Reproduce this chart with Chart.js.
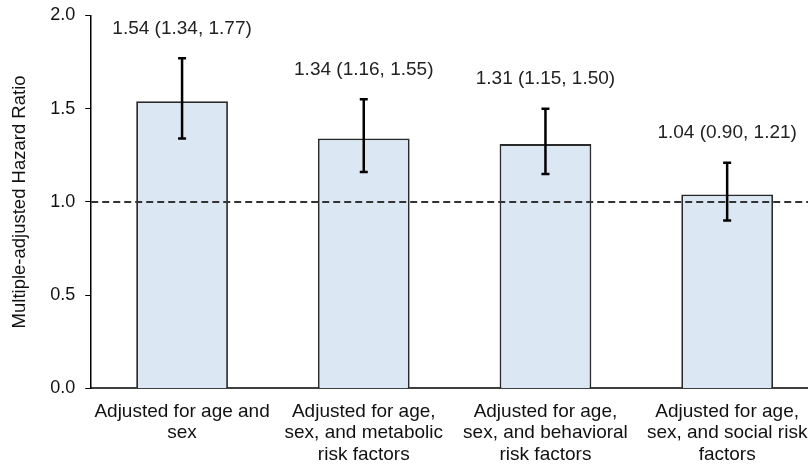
<!DOCTYPE html>
<html>
<head>
<meta charset="utf-8">
<script src="https://cdn.jsdelivr.net/npm/chart.js@4/dist/chart.umd.min.js"></script>
<style>
  html, body { margin: 0; padding: 0; background: #fff; overflow: hidden; }
  #wrap { width: 830px; height: 470px; }
</style>
</head>
<body>
<div id="wrap"><canvas id="hrChart" width="830" height="470"></canvas></div>
<script>
// categories (multi-line tick labels) and hazard ratios with 95% CI
const categories = [
    ['Adjusted for age and', 'sex'],
    ['Adjusted for age,', 'sex, and metabolic', 'risk factors'],
    ['Adjusted for age,', 'sex, and behavioral', 'risk factors'],
    ['Adjusted for age,', 'sex, and social risk', 'factors']
];
const hazardRatio = [1.54, 1.34, 1.31, 1.04];
const ciLower = [1.34, 1.16, 1.15, 0.90];
const ciUpper = [1.77, 1.55, 1.50, 1.21];
const yTicks = [0, 0.5, 1.0, 1.5, 2.0];
const referenceLine = 1.0;

const fontFamily = '"Liberation Sans", Arial, sans-serif';

// error bars, value labels and the dashed reference line
const errorBarPlugin = {
    id: 'errorBars',
    afterDatasetsDraw(chart) {
        const ctx = chart.ctx;
        const x = chart.scales.x;
        const y = chart.scales.y;
        const area = chart.chartArea;

        // dashed line at HR = 1
        const yRef = y.getPixelForValue(referenceLine);
        ctx.save();
        ctx.strokeStyle = '#333';
        ctx.lineWidth = 2;
        ctx.setLineDash([7, 4]);
        ctx.beginPath();
        ctx.moveTo(area.left, yRef);
        ctx.lineTo(area.right, yRef);
        ctx.stroke();
        ctx.restore();

        hazardRatio.forEach((v, i) => {
            const cx = x.getPixelForValue(i);
            const yLo = y.getPixelForValue(ciLower[i]);
            const yHi = y.getPixelForValue(ciUpper[i]);
            ctx.save();
            ctx.strokeStyle = '#000';
            ctx.lineWidth = 2.5;
            ctx.beginPath();
            ctx.moveTo(cx, yLo);
            ctx.lineTo(cx, yHi);
            ctx.moveTo(cx - 4, yLo);
            ctx.lineTo(cx + 4, yLo);
            ctx.moveTo(cx - 4, yHi);
            ctx.lineTo(cx + 4, yHi);
            ctx.stroke();

            const text = v.toFixed(2) + ' (' + ciLower[i].toFixed(2) + ', ' + ciUpper[i].toFixed(2) + ')';
            ctx.fillStyle = '#222';
            ctx.font = '19px ' + fontFamily;
            ctx.textAlign = 'center';
            ctx.textBaseline = 'middle';
            ctx.fillText(text, cx, yHi - 30);
            ctx.restore();
        });
    }
};

new Chart(document.getElementById('hrChart').getContext('2d'), {
    type: 'bar',
    data: {
        labels: categories,
        datasets: [{
            data: hazardRatio,
            backgroundColor: '#dce7f4',
            borderColor: '#2a2a2a',
            borderWidth: 1.8,
            barPercentage: 0.505,
            categoryPercentage: 1.0
        }]
    },
    options: {
        responsive: false,
        animation: false,
        layout: { padding: { top: 0, right: 12, left: 0, bottom: 0 } },
        plugins: {
            legend: { display: false },
            tooltip: { enabled: false }
        },
        scales: {
            x: {
                grid: { display: false },
                border: { display: true, color: '#404040', width: 2 },
                ticks: {
                    color: '#111',
                    font: { size: 19, family: fontFamily, lineHeight: 1.15 },
                    maxRotation: 0,
                    autoSkip: false,
                    padding: 4
                }
            },
            y: {
                min: 0,
                max: 2,
                afterBuildTicks(scale) {
                    scale.ticks = yTicks.map(v => ({ value: v }));
                },
                grid: {
                    display: true,
                    drawOnChartArea: false,
                    drawTicks: true,
                    tickLength: 6,
                    color: '#000'
                },
                border: { display: true, color: '#000', width: 1.5 },
                ticks: {
                    color: '#111',
                    font: { size: 18, family: fontFamily, lineHeight: 0.6 },
                    padding: 10,
                    callback: v => v.toFixed(1)
                },
                title: {
                    display: true,
                    text: 'Multiple-adjusted Hazard Ratio',
                    color: '#111',
                    font: { size: 18.5, family: fontFamily },
                    padding: { top: 9, bottom: 9 }
                }
            }
        }
    },
    plugins: [errorBarPlugin]
});
</script>
</body>
</html>
